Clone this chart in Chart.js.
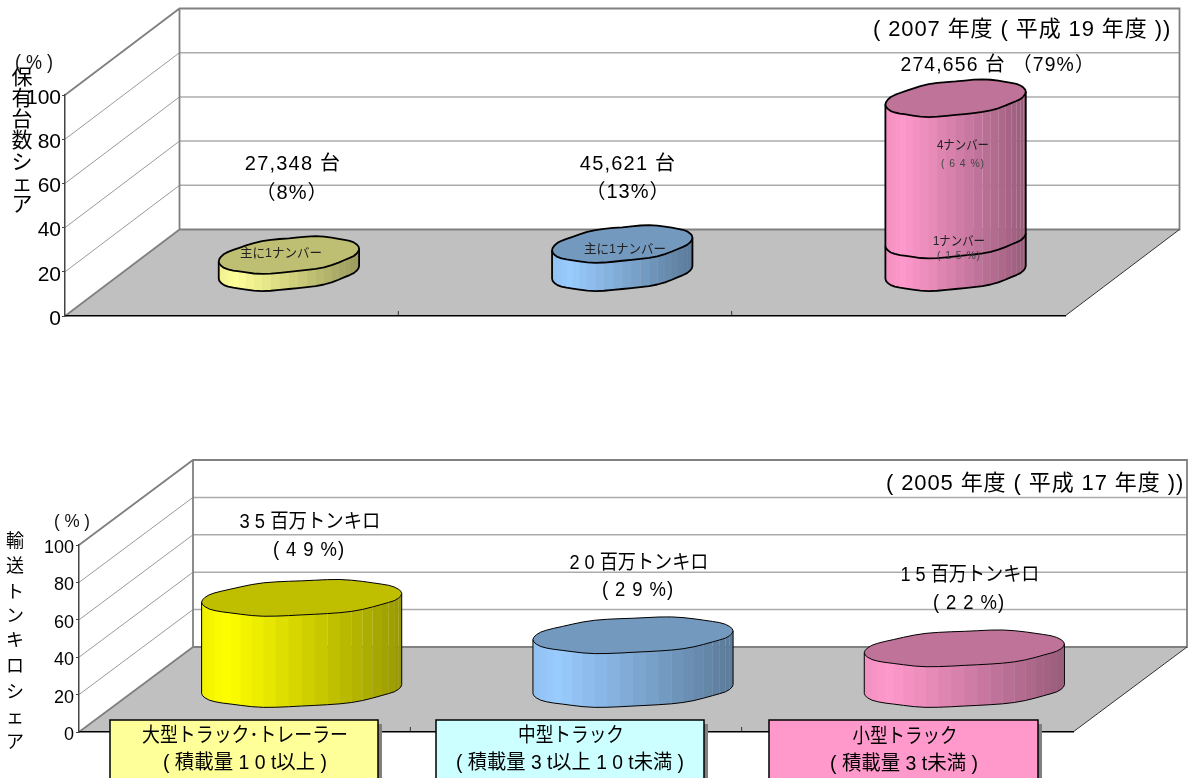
<!DOCTYPE html>
<html lang="ja">
<head>
<meta charset="utf-8">
<title>トラックの保有台数シェアと輸送トンキロシェア</title>
<script src="https://cdn.jsdelivr.net/npm/chart.js@4/dist/chart.umd.min.js"></script>
<style>
  html, body { margin: 0; padding: 0; background: #fff; overflow: hidden; }
  canvas { position: absolute; left: 0; display: block; }
  #ownership { top: 0; }
  #transport { top: 389px; }
</style>
</head>
<body>
<canvas id="ownership"></canvas>
<canvas id="transport"></canvas>
<script>
// Truck classes on the category axis
const categories = ['大型トラック･トレーラー', '中型トラック', '小型トラック'];
const categorySpecs = ['( 積載量 1 0 t以上 )', '( 積載量 3 t以上 1 0 t未満 )', '( 積載量 3 t未満 )'];

// Share of registered vehicles, FY2007 (%), the small class split by plate number
const ownershipPlateOne = [8, 13, 15];
const ownershipPlateFour = [0, 0, 64];
const ownershipCounts = ['27,348 台', '45,621 台'];

// Share of ton-kilometres, FY2005 (%)
const transportShare = [49, 29, 22];
const transportVolume = ['3 5 百万トンキロ', '2 0 百万トンキロ', '1 5 百万トンキロ'];

const yTicks = [0, 20, 40, 60, 80, 100];

// Palette
const sideColors = ['#FFFF99', '#99CCFF', '#FF99CC'];
const solidColors = ['#FFFF00', '#99CCFF', '#FF99CC'];
const boxColors = ['#FFFF99', '#CCFFFF', '#FF99CC'];

const SANS = '"Liberation Sans", "Noto Sans CJK JP", sans-serif';
const PAGE_W = 1193;

// Small irregularities of the faceted rim, in pixels, around the cylinder edge
const rimNoise = [0, 0, .1, .2, -.3, -.5, -.2, .3, .5, .3, -.1, -.4, -.5, -.2, .2, .5,
                  .3, -.2, -.4, -.1, .2, .4, .1, 0, 0, 0, -.2, -.4, -.1, .3, .5, .2,
                  -.3, -.5, -.2, .2, .5, .3, -.2, -.5, -.3, .1, .4, .3, -.1, -.2, 0, 0];
const RIM_STEPS = rimNoise.length;

function shade(hex, k) {
  const n = parseInt(hex.slice(1), 16);
  const c = [(n >> 16) & 255, (n >> 8) & 255, n & 255].map(v => Math.round(v * k));
  return 'rgb(' + c.join(',') + ')';
}

function sideShade(u) {
  if (u < 0.12) return 0.94 + 0.06 * (u / 0.12);
  return 1 - 0.4 * (u - 0.12) / 0.88;
}

// One cylinder segment standing on the floor, projected with the chart's depth vector
function drawCylinder(ctx, cfg, el, color, isTop) {
  const cx = el.x + cfg.depthX / 2;
  const baseY = el.base - cfg.depthY / 2;
  const topY = el.y - cfg.depthY / 2;
  const rx = el.width / 2;
  const dx = cfg.depthX * cfg.capRatio / 2;
  const dy = cfg.depthY * cfg.capRatio / 2;
  const tMax = Math.atan2(dx, rx);

  const rim = i => {
    const t = tMax - (i / RIM_STEPS) * Math.PI * 2;
    const k = ((i % RIM_STEPS) + RIM_STEPS) % RIM_STEPS;
    return { x: cx + rx * Math.cos(t) + dx * Math.sin(t), y: -dy * Math.sin(t) + rimNoise[k] };
  };
  const half = RIM_STEPS / 2;
  const xLeft = rim(half).x, xRight = rim(0).x;

  // Side wall as vertical facets, left to right; the darker half keeps hairline seams
  for (let i = half; i > 0; i--) {
    const a = rim(i), b = rim(i - 1);
    const u = ((a.x + b.x) / 2 - xLeft) / (xRight - xLeft);
    const lap = u < 0.55 ? 0.6 : 0.15;
    ctx.fillStyle = shade(color, sideShade(u));
    ctx.beginPath();
    ctx.moveTo(a.x, topY + a.y);
    ctx.lineTo(b.x + lap, topY + b.y);
    ctx.lineTo(b.x + lap, baseY + b.y);
    ctx.lineTo(a.x, baseY + a.y);
    ctx.closePath();
    ctx.fill();
  }

  ctx.strokeStyle = '#000';
  ctx.lineWidth = cfg.outline;
  ctx.lineJoin = 'round';

  // Outline of the lower rim and both edges
  ctx.beginPath();
  let p = rim(half);
  ctx.moveTo(p.x, topY + p.y);
  for (let i = half; i >= 0; i--) { p = rim(i); ctx.lineTo(p.x, baseY + p.y); }
  p = rim(0);
  ctx.lineTo(p.x, topY + p.y);
  ctx.stroke();

  // Cap on the highest segment only
  if (isTop) {
    ctx.beginPath();
    for (let i = 0; i < RIM_STEPS; i++) {
      p = rim(i);
      if (i === 0) ctx.moveTo(p.x, topY + p.y); else ctx.lineTo(p.x, topY + p.y);
    }
    ctx.closePath();
    ctx.fillStyle = shade(color, 0.75);
    ctx.fill();
    ctx.stroke();
  }
}

// Floor, back wall, side wall and their gridlines, drawn behind the axes
const wallsPlugin = {
  id: 'walls',
  beforeDraw(chart, args, cfg) {
    const { ctx, chartArea: a } = chart;
    const y = chart.scales.y, dx = cfg.depthX, dy = cfg.depthY;
    ctx.save();
    ctx.fillStyle = '#C0C0C0';
    ctx.beginPath();
    ctx.moveTo(a.left, a.bottom);
    ctx.lineTo(a.left + dx, a.bottom - dy);
    ctx.lineTo(a.right + dx, a.bottom - dy);
    ctx.lineTo(a.right, a.bottom);
    ctx.closePath();
    ctx.fill();

    yTicks.forEach(v => {
      const py = y.getPixelForValue(v);
      if (v > 0 && v < 100) {
        ctx.strokeStyle = '#9a9a9a';
        ctx.lineWidth = 1;
        ctx.beginPath();
        ctx.moveTo(a.left, py);
        ctx.lineTo(a.left + dx, py - dy);
        ctx.stroke();
        ctx.strokeStyle = '#ababab';
        ctx.lineWidth = 1.5;
        ctx.beginPath();
        ctx.moveTo(a.left + dx, py - dy);
        ctx.lineTo(a.right + dx, py - dy);
        ctx.stroke();
      }
    });

    ctx.strokeStyle = '#808080';
    ctx.lineWidth = 1.8;
    ctx.beginPath();
    ctx.moveTo(a.left, a.top);
    ctx.lineTo(a.left + dx, a.top - dy);
    ctx.lineTo(a.right + dx, a.top - dy);
    ctx.lineTo(a.right + dx, a.bottom - dy);
    ctx.lineTo(a.left + dx, a.bottom - dy);
    ctx.lineTo(a.left + dx, a.top - dy);
    ctx.moveTo(a.left, a.bottom);
    ctx.lineTo(a.left + dx, a.bottom - dy);
    ctx.stroke();

    ctx.strokeStyle = '#333';
    ctx.lineWidth = 1;
    ctx.beginPath();
    ctx.moveTo(a.right, a.bottom);
    ctx.lineTo(a.right + dx, a.bottom - dy);
    // Category separators rise from the base line
    const step = (a.right - a.left) / categories.length;
    for (let i = 1; i < categories.length; i++) {
      ctx.moveTo(a.left + step * i, a.bottom);
      ctx.lineTo(a.left + step * i, a.bottom - 5);
    }
    ctx.stroke();
    ctx.restore();
  }
};

// Replaces the flat bars with cylinders built from the bar elements
const cylinderPlugin = {
  id: 'cylinders',
  beforeDatasetDraw() { return false; },
  beforeDatasetsDraw(chart, args, cfg) {
    const { ctx } = chart;
    const count = chart.data.labels.length;
    ctx.save();
    for (let i = 0; i < count; i++) {
      let top = -1;
      chart.data.datasets.forEach((d, di) => { if (d.data[i] > 0) top = di; });
      chart.data.datasets.forEach((d, di) => {
        if (d.data[i] > 0) {
          const el = chart.getDatasetMeta(di).data[i];
          drawCylinder(ctx, cfg, el, d.backgroundColor[i], di === top);
        }
      });
    }
    ctx.restore();
  }
};

// Text placed over the plot; coordinates are relative to the chart's canvas
function putText(ctx, t) {
  ctx.font = t.font;
  ctx.fillStyle = t.color || '#000';
  ctx.textAlign = 'center';
  ctx.textBaseline = 'middle';
  ctx.letterSpacing = (t.spacing || 0) + 'px';
  const y = t.y + 1.5;
  if (t.width) ctx.fillText(t.text, t.x, y, t.width);
  else ctx.fillText(t.text, t.x, y);
  ctx.letterSpacing = '0px';
}

const textPlugin = {
  id: 'notes',
  afterDraw(chart, args, cfg) {
    const { ctx } = chart;
    ctx.save();
    (cfg.boxes || []).forEach(b => {
      ctx.fillStyle = '#808080';
      ctx.fillRect(b.x + 4, b.y + 4, b.w, b.h);
      ctx.fillStyle = b.fill;
      ctx.fillRect(b.x, b.y, b.w, b.h);
      ctx.strokeStyle = '#000';
      ctx.lineWidth = 1.5;
      ctx.strokeRect(b.x, b.y, b.w, b.h);
    });
    cfg.texts.forEach(t => putText(ctx, t));
    ctx.restore();
  }
};

function makeChart(id, o) {
  const canvas = document.getElementById(id);
  canvas.width = PAGE_W;
  canvas.height = o.height;
  canvas.style.width = PAGE_W + 'px';
  canvas.style.height = o.height + 'px';
  return new Chart(canvas, {
    type: 'bar',
    data: { labels: categories, datasets: o.datasets },
    plugins: [wallsPlugin, cylinderPlugin, textPlugin],
    options: {
      responsive: false,
      animation: false,
      devicePixelRatio: 1,
      layout: { padding: { left: 0, top: o.top, right: PAGE_W - o.right, bottom: o.height - o.bottom } },
      plugins: {
        legend: { display: false },
        tooltip: { enabled: false },
        title: { display: false },
        walls: { depthX: o.depthX, depthY: o.depthY },
        cylinders: { depthX: o.depthX, depthY: o.depthY, capRatio: o.capRatio, outline: o.outline },
        notes: { texts: o.texts, boxes: o.boxes }
      },
      scales: {
        x: {
          stacked: true,
          offset: true,
          ticks: { display: false },
          grid: { display: false, drawTicks: false },
          border: { display: true, color: '#000', width: 1.5 }
        },
        y: {
          stacked: true,
          min: 0,
          max: 100,
          afterFit: s => { s.width = o.left; },
          afterBuildTicks: s => { s.ticks = yTicks.map(v => ({ value: v })); },
          ticks: { font: { family: SANS, size: o.tickSize }, color: '#000', padding: o.tickPad, labelOffset: o.tickShift, maxRotation: 0, autoSkip: false },
          grid: { drawOnChartArea: false, drawTicks: true, tickLength: 3, color: '#444' },
          border: { display: true, color: '#444', width: 1.5 }
        }
      }
    }
  });
}

const F20 = '20px ' + SANS;
const HEAD = '22px ' + SANS;
const verticalTitle = (chars, x, ys, font) =>
  Array.from(chars).map((c, i) => ({ text: c, x, y: ys[i], font }));

const ownershipPlateLabels = ['主に1ナンバー', '4ナンバー', '( 6 4 %)', '1ナンバー', '( 1 5 %)'];

makeChart('ownership', {
  height: 389, top: 95, bottom: 316, left: 65, right: 1065,
  depthX: 114.5, depthY: 86.5, capRatio: 0.425, outline: 1.8,
  tickSize: 21, tickPad: 1, tickShift: 3,
  datasets: [
    { label: '1ナンバー', data: ownershipPlateOne, backgroundColor: sideColors, categoryPercentage: 1, barPercentage: 0.395 },
    { label: '4ナンバー', data: ownershipPlateFour, backgroundColor: sideColors, categoryPercentage: 1, barPercentage: 0.395 }
  ],
  texts: [
    { text: '( 2007 年度 ( 平成 19 年度 ))', x: 1022, y: 28, font: HEAD, spacing: 0.9, width: 302 },
    { text: '274,656 台 （79%）', x: 998, y: 64, font: F20, spacing: 1.2, width: 195 },
    { text: ownershipCounts[0], x: 293, y: 163, font: F20, spacing: 1.2 },
    { text: '（8%）', x: 292, y: 192, font: F20, spacing: 1 },
    { text: ownershipCounts[1], x: 628, y: 163, font: F20, spacing: 1.2 },
    { text: '（13%）', x: 628, y: 191, font: F20, spacing: 1 },
    { text: ownershipPlateLabels[0], x: 281, y: 252, font: '13px ' + SANS, color: '#222', width: 82 },
    { text: ownershipPlateLabels[0], x: 625, y: 248, font: '13px ' + SANS, color: '#222', width: 82 },
    { text: ownershipPlateLabels[1], x: 963, y: 144, font: '13px ' + SANS, color: '#222', width: 52 },
    { text: ownershipPlateLabels[2], x: 963, y: 162, font: '11px ' + SANS, color: '#444', spacing: 1, width: 44 },
    { text: ownershipPlateLabels[3], x: 959, y: 240, font: '13px ' + SANS, color: '#222', width: 52 },
    { text: ownershipPlateLabels[4], x: 959, y: 254, font: '11px ' + SANS, color: '#444', spacing: 1, width: 44 },
    { text: '( % )', x: 34, y: 62, font: '20px ' + SANS, color: '#111', width: 38 },
    ...verticalTitle('保有台数シェア', 22, [77, 98, 119, 140, 162, 183, 204], '21px ' + SANS)
  ]
});

// The lower chart's canvas starts below the first, so page rows are shifted by this amount
const Y0 = 389;

makeChart('transport', {
  height: 778 - Y0, top: 545 - Y0, bottom: 732 - Y0, left: 79, right: 1073,
  depthX: 114, depthY: 85, capRatio: 0.425, outline: 1,
  tickSize: 18, tickPad: 2, tickShift: 3,
  datasets: [
    { label: '輸送トンキロシェア', data: transportShare, backgroundColor: solidColors, categoryPercentage: 1, barPercentage: 0.586 }
  ],
  boxes: [
    { x: 110, y: 720 - Y0, w: 268, h: 70, fill: boxColors[0] },
    { x: 436, y: 720 - Y0, w: 268, h: 70, fill: boxColors[1] },
    { x: 769, y: 720 - Y0, w: 269, h: 70, fill: boxColors[2] }
  ],
  texts: [
    { text: '( 2005 年度 ( 平成 17 年度 ))', x: 1035, y: 482 - Y0, font: HEAD, spacing: 0.9, width: 303 },
    { text: transportVolume[0], x: 310, y: 521 - Y0, font: F20, width: 141 },
    { text: '( 4 9 %)', x: 309, y: 549 - Y0, font: F20, spacing: 1, width: 72 },
    { text: transportVolume[1], x: 639, y: 562 - Y0, font: F20, width: 139 },
    { text: '( 2 9 %)', x: 638, y: 589 - Y0, font: F20, spacing: 1, width: 72 },
    { text: transportVolume[2], x: 970, y: 574 - Y0, font: F20, width: 139 },
    { text: '( 2 2 %)', x: 969, y: 602 - Y0, font: F20, spacing: 1, width: 72 },
    { text: '( % )', x: 72, y: 521 - Y0, font: '18px ' + SANS, color: '#111', width: 36 },
    ...verticalTitle('輸送トンキロシェア', 15,
      [541, 566, 592, 616, 640, 666, 692, 717, 742].map(v => v - Y0), '18px ' + SANS),
    { text: categories[0], x: 245, y: 735 - Y0, font: F20, width: 206 },
    { text: categorySpecs[0], x: 245, y: 762 - Y0, font: F20, width: 164 },
    { text: categories[1], x: 571, y: 735 - Y0, font: F20, width: 106 },
    { text: categorySpecs[1], x: 570, y: 762 - Y0, font: F20, width: 228 },
    { text: categories[2], x: 905, y: 736 - Y0, font: F20, width: 105 },
    { text: categorySpecs[2], x: 904, y: 763 - Y0, font: F20, width: 148 }
  ]
});
</script>
</body>
</html>
